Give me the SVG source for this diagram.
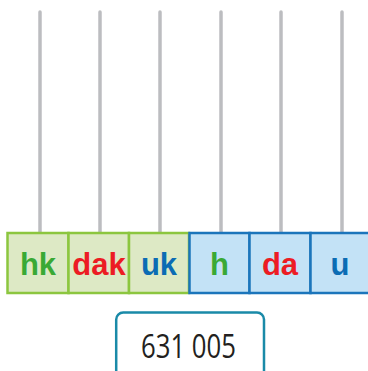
<svg xmlns="http://www.w3.org/2000/svg" width="368" height="371" viewBox="0 0 368 371">
<style>
.rod{stroke:#bcbdc0;stroke-width:3.5;stroke-linecap:round}
.gc{fill:#dde9c5;stroke:#8cc63f;stroke-width:2.5}
.bc{fill:#c3e2f6;stroke:#1b75bb;stroke-width:2.5}
.lbl{font-family:"Liberation Sans",Arial,sans-serif;font-weight:bold;font-size:31px;text-anchor:middle}
.g{fill:#39a935}.r{fill:#ec1c24}.b{fill:#0b6cb4}
.num{font-family:"Open Sans","Liberation Sans",sans-serif;font-size:33px;fill:#231f20;text-anchor:middle}
</style>
<g id="rods">
<line class="rod" x1="40" y1="12" x2="40" y2="232"/>
<line class="rod" x1="100" y1="12" x2="100" y2="232"/>
<line class="rod" x1="160" y1="12" x2="160" y2="232"/>
<line class="rod" x1="221" y1="12" x2="221" y2="232"/>
<line class="rod" x1="281" y1="12" x2="281" y2="232"/>
<line class="rod" x1="342" y1="12" x2="342" y2="232"/>
</g>
<g id="hk"><rect class="gc" x="7.5" y="233" width="61" height="60"/><text class="lbl g" x="38" y="275">hk</text></g>
<g id="dak"><rect class="gc" x="68.5" y="233" width="60.5" height="60"/><text class="lbl r" x="99" y="275">dak</text></g>
<g id="uk"><rect class="gc" x="129" y="233" width="60" height="60"/><text class="lbl b" x="159" y="275">uk</text></g>
<g id="h"><rect class="bc" x="189.5" y="233" width="60" height="60"/><text class="lbl g" x="219.5" y="275">h</text></g>
<g id="da"><rect class="bc" x="249.5" y="233" width="61" height="60"/><text class="lbl r" x="280" y="275">da</text></g>
<g id="u"><rect class="bc" x="310.5" y="233" width="60" height="60"/><text class="lbl b" x="340" y="275">u</text></g>
<g id="number"><path d="M116.2,372 V319.5 a7,7 0 0 1 7,-7 H257 a7,7 0 0 1 7,7 V372" fill="#fff" stroke="#1a8aa8" stroke-width="2.5"/><text class="num" x="188.5" y="357.5" textLength="95" lengthAdjust="spacingAndGlyphs">631 005</text></g>
</svg>
